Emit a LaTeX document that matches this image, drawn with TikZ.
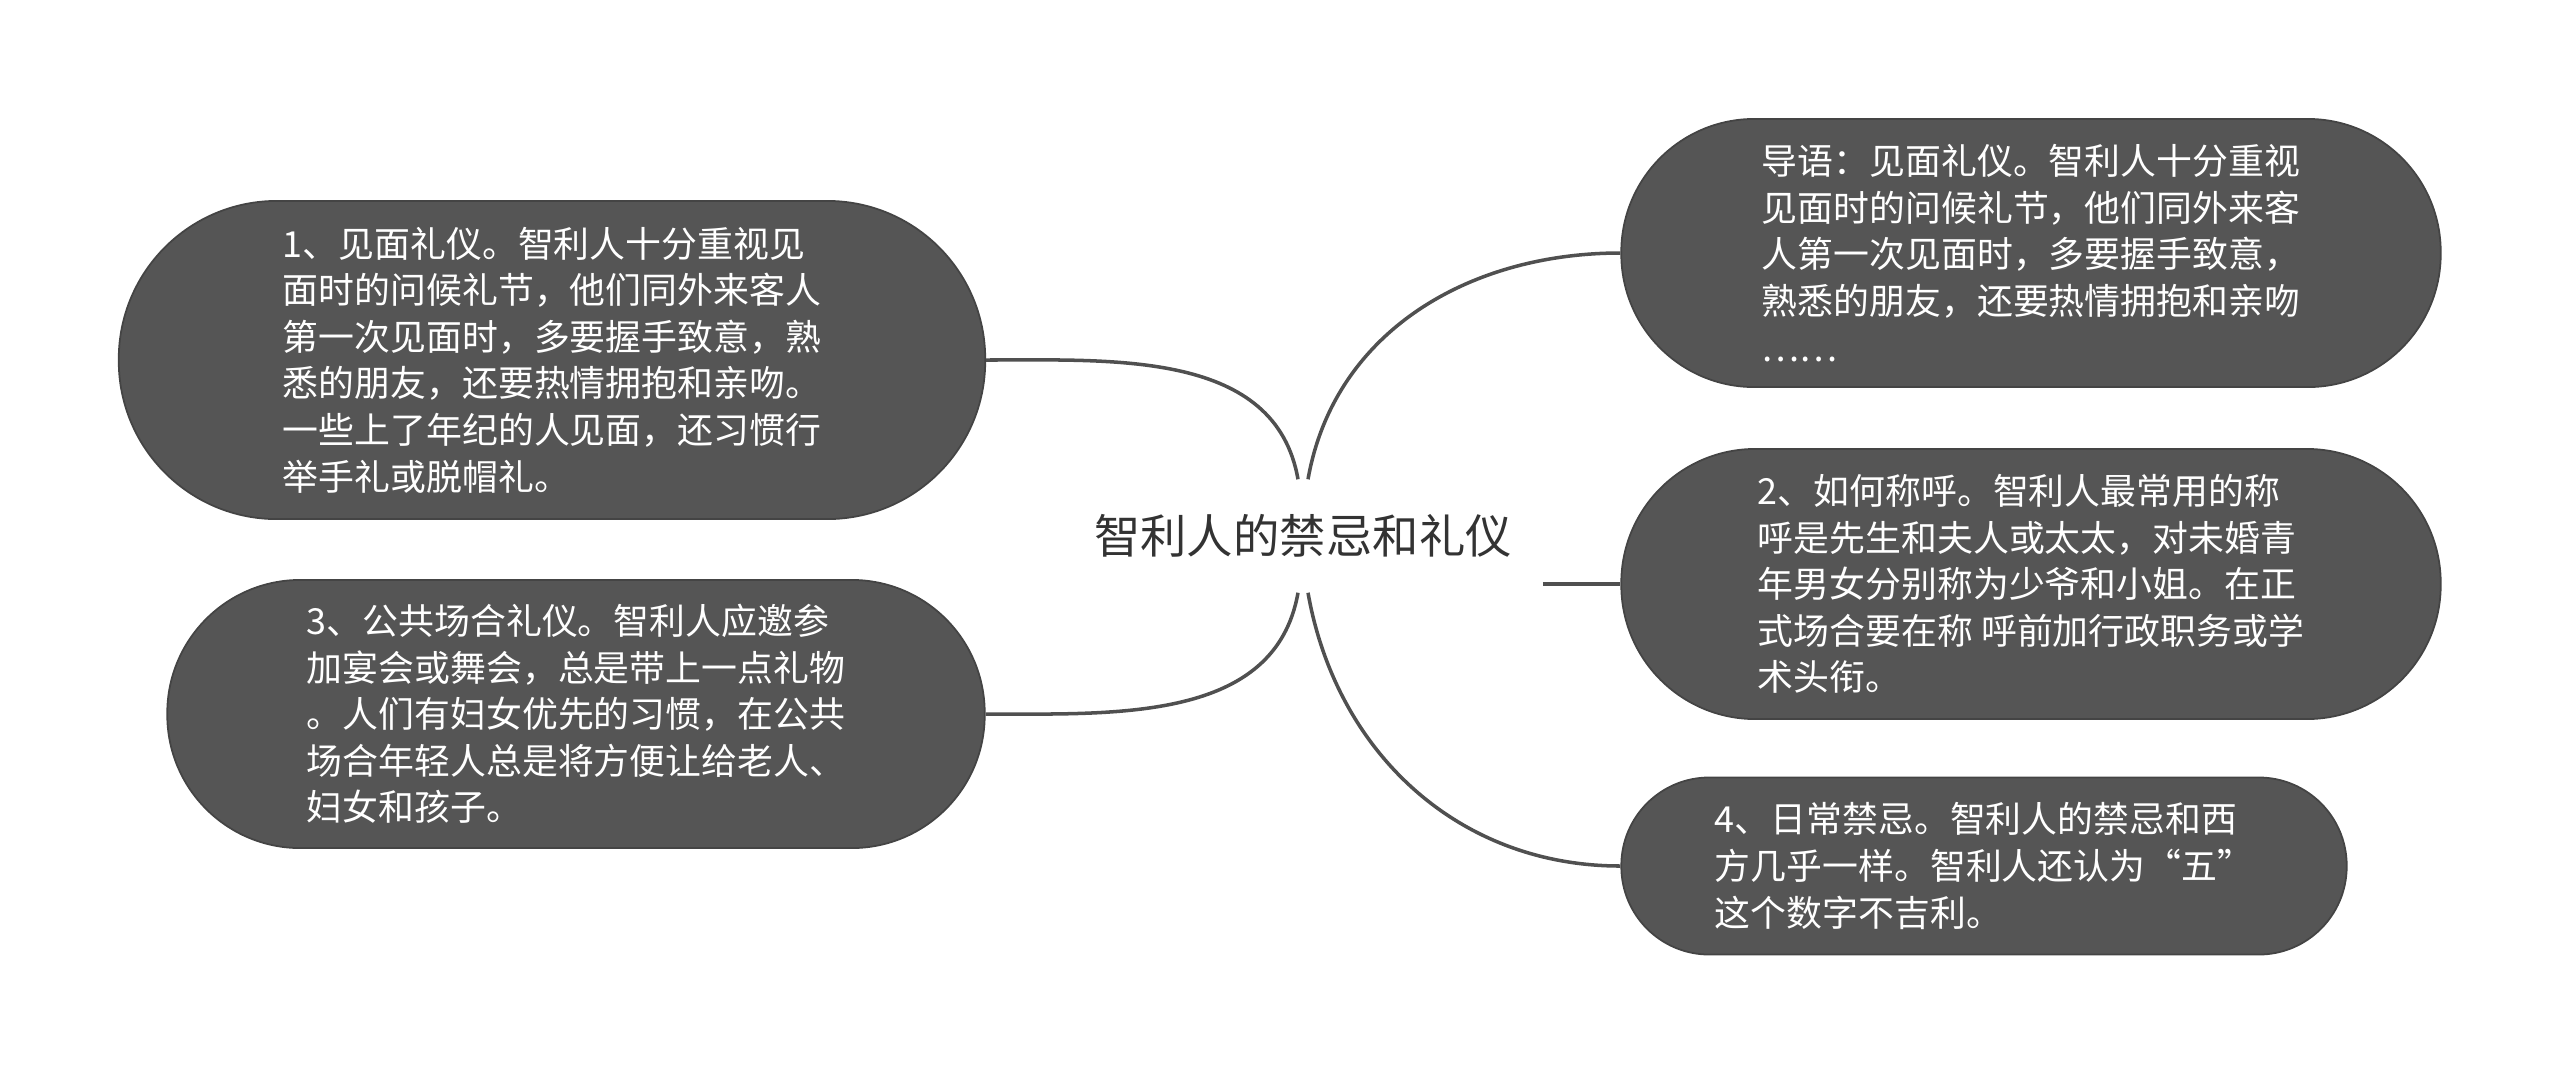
\documentclass[tikz,border=0pt]{standalone}
\usepackage{fontspec}
\newfontfamily\cjk{Noto Sans CJK SC}
\definecolor{nodeGray}{HTML}{555555}
\definecolor{nodeEdge}{HTML}{444444}
\definecolor{linkGray}{HTML}{505050}
\definecolor{textDark}{HTML}{333333}
\begin{document}
\begin{tikzpicture}[x=0.01cm, y=0.01cm,
    topic/.style={fill=nodeGray, draw=nodeEdge, line width=0.5pt, text=white,
        font=\cjk\fontsize{10.2}{13.25}\selectfont, align=left, inner sep=0pt},
    link/.style={draw=linkGray, line width=1pt}]
    % --- CANVAS ---
    \useasboundingbox (0,0) rectangle (2560,-1072);

    % =========================================
    % CENTRE
    % =========================================
    \node[text=textDark, font=\cjk\fontsize{13.2}{16}\selectfont,
        minimum width=4.78cm, minimum height=1.12cm, inner sep=0pt]
        (centre) at (1303,-536) {智利人的禁忌和礼仪};

    % =========================================
    % LEFT BRANCHES
    % =========================================
    \node[topic, minimum width=8.66cm, minimum height=3.18cm, rounded corners=1.58cm]
        (greet) at (552,-360) {1、见面礼仪。智利人十分重视见\\面时的问候礼节，他们同外来客人\\第一次见面时，多要握手致意，熟\\悉的朋友，还要热情拥抱和亲吻。\\一些上了年纪的人见面，还习惯行\\举手礼或脱帽礼。};
    \node[topic, minimum width=8.17cm, minimum height=2.68cm, rounded corners=1.33cm]
        (public) at (576,-714) {3、公共场合礼仪。智利人应邀参\\加宴会或舞会，总是带上一点礼物\\。人们有妇女优先的习惯，在公共\\场合年轻人总是将方便让给老人、\\妇女和孩子。};

    % =========================================
    % RIGHT BRANCHES
    % =========================================
    \node[topic, minimum width=8.19cm, minimum height=2.68cm, rounded corners=1.33cm]
        (intro) at (2031,-253) {导语：见面礼仪。智利人十分重视\\见面时的问候礼节，他们同外来客\\人第一次见面时，多要握手致意，\\熟悉的朋友，还要热情拥抱和亲吻\\……};
    \node[topic, minimum width=8.19cm, minimum height=2.70cm, rounded corners=1.34cm]
        (address) at (2031,-584) {2、如何称呼。智利人最常用的称\\呼是先生和夫人或太太，对未婚青\\年男女分别称为少爷和小姐。在正\\式场合要在称 呼前加行政职务或学\\术头衔。};
    \node[topic, minimum width=7.25cm, minimum height=1.77cm, rounded corners=0.88cm]
        (taboo) at (1984,-866) {4、日常禁忌。智利人的禁忌和西\\方几乎一样。智利人还认为“五”\\这个数字不吉利。};

    % Connectors
    \draw[link] ([xshift=-0.05cm]centre.north) to[out=100, in=0] (greet.east);
    \draw[link] ([xshift=0.05cm]centre.north) to[out=80, in=180] (intro.west);
    \draw[link] (centre.east |- address.west) -- (address.west);
    \draw[link] ([xshift=-0.05cm]centre.south) to[out=-100, in=0] (public.east);
    \draw[link] ([xshift=0.05cm]centre.south) to[out=-80, in=180] (taboo.west);
\end{tikzpicture}
\end{document}
